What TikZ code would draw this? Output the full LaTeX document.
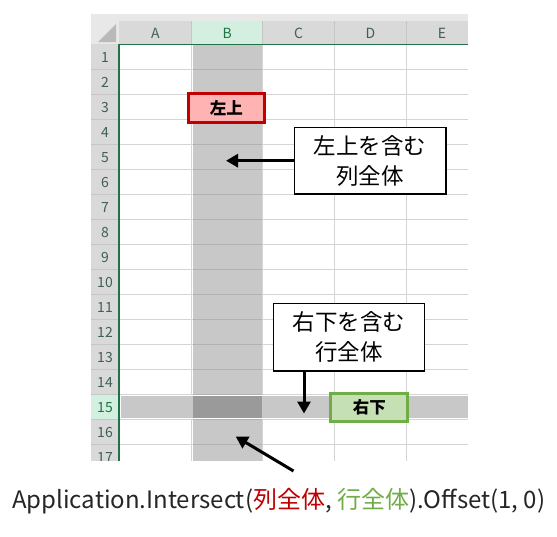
\documentclass[tikz,border=0pt]{standalone}
\usepackage{fontspec}
\setmainfont{Noto Sans CJK JP}
\usetikzlibrary{arrows.meta}
\definecolor{hdr}{HTML}{D9D9D9}
\definecolor{hdrtop}{HTML}{E8E8E8}
\definecolor{hdrsel}{HTML}{D3EFDF}
\definecolor{xlgreen}{HTML}{217346}
\definecolor{gridc}{HTML}{D4D4D4}
\definecolor{cellgray}{HTML}{C8C8C8}
\definecolor{celldark}{HTML}{9A9A9A}
\definecolor{hdrtxt}{HTML}{3F5F55}
\definecolor{redb}{HTML}{C00000}
\definecolor{redf}{HTML}{FFB3B3}
\definecolor{greenb}{HTML}{70AD47}
\definecolor{greenf}{HTML}{C5E0B4}
\tikzset{
  hdrlabel/.style={font=\fontsize{14}{14}\selectfont, text=hdrtxt, inner sep=0pt},
  callout/.style={draw=black, line width=1.3pt, fill=white, align=center, inner sep=0pt,
    font=\fontsize{22.5}{30}\selectfont},
  tagbox/.style={line width=3pt, inner sep=0pt, font=\fontsize{16.5}{16.5}\selectfont\bfseries},
  bigarrow/.style={line width=3pt, -{Triangle[length=12pt,width=13pt]}},
}
\begin{document}
\begin{tikzpicture}[x=1pt,y=-1pt]
\useasboundingbox (0,0) rectangle (557,536);
\fill[white] (0,0) rectangle (557,536);
\begin{scope}
\clip (91,14) rectangle (468,460.5);
% top strip and corner
\fill[hdrtop] (91,14) rectangle (468,21);
\fill[hdrtop] (91,14) rectangle (119,44.3);
\fill[gray!55] (116,24) -- (116,42) -- (98,42) -- cycle;
% column headers
\fill[hdr] (119,21) rectangle (468,44.3);
\fill[hdrsel] (191.7,21) rectangle (262.7,44.3);
\foreach \x in {191.7,262.7,334.3,406.7} \draw[gray!45, line width=0.8pt] (\x,21) -- (\x,44.3);
\foreach \l/\cx in {A/155.4,C/298.5,D/370.5,E/442}
  \node[hdrlabel] at (\cx,33) {\l};
\node[hdrlabel, text=xlgreen] at (227.2,33) {B};
% row headers
\fill[hdr] (91,44.3) rectangle (119,460.5);
\fill[hdrsel] (91,394.3) rectangle (119,419.3);
\foreach \r in {1,...,17} {
  \pgfmathsetmacro{\yt}{44.3+(\r-1)*25}
  \draw[gray!45, line width=0.8pt] (91,\yt+25) -- (119,\yt+25);
  \ifnum\r=15
    \node[hdrlabel, text=xlgreen] at (105,\yt+13) {\r};
  \else
    \node[hdrlabel] at (105,\yt+13) {\r};
  \fi
}
% grid
\foreach \r in {1,...,17} {
  \pgfmathsetmacro{\yt}{44.3+\r*25}
  \draw[gridc, line width=1pt] (119,\yt) -- (468,\yt);
}
\foreach \x in {191.7,262.7,334.3,406.7} \draw[gridc, line width=1pt] (\x,44.3) -- (\x,460.5);
% shading column B
\fill[cellgray] (193,44.3) rectangle (261.5,460.5);
\foreach \r in {1,...,17} {
  \pgfmathsetmacro{\yt}{44.3+\r*25}
  \draw[gray!60, line width=0.8pt] (193,\yt) -- (261.5,\yt);
}
% shading row 15
\fill[cellgray] (120.7,395.5) rectangle (468,418);
\fill[celldark] (193,395.5) rectangle (261.5,418);
\draw[white, line width=0.8pt] (120.7,395.5) -- (468,395.5);
\draw[white, line width=0.8pt] (120.7,418) -- (468,418);
% green frame lines
\draw[xlgreen, line width=1.6pt] (119,44.3) -- (468,44.3);
\draw[xlgreen, line width=1.6pt] (119,44.3) -- (119,460.5);
\end{scope}
% tag boxes
\node[tagbox, draw=redb, fill=redf, minimum width=76.3pt, minimum height=29pt] (tl) at (226.3,108.3) {左上};
\node[tagbox, draw=greenb, fill=greenf, minimum width=77pt, minimum height=28.6pt] (br) at (369.3,407.5) {右下};
% callouts
\node[callout, minimum width=151.7pt, minimum height=66.7pt] (c1) at (370.2,160.7) {左上を含む\\列全体};
\node[callout, minimum width=151pt, minimum height=67.7pt] (c2) at (348.8,337.2) {右下を含む\\行全体};
\coordinate (t1) at (226,160.7);
\coordinate (t2) at (304,413.5);
\coordinate (t3) at (235.7,436.5);
\coordinate (s3) at (293.5,471);
\draw[bigarrow] (c1.west) -- (t1);
\draw[bigarrow] (c2.south -| t2) -- (t2);
\draw[bigarrow] (s3) -- (t3);
% formula
\node[anchor=base west, inner sep=0pt, font=\fontsize{24}{24}\selectfont, text=black!85] (f) at (12,508.3)
  {Application.Intersect(\textcolor{redb}{列全体}, \textcolor{greenb}{行全体}).Offset(1, 0)};
\end{tikzpicture}
\end{document}
